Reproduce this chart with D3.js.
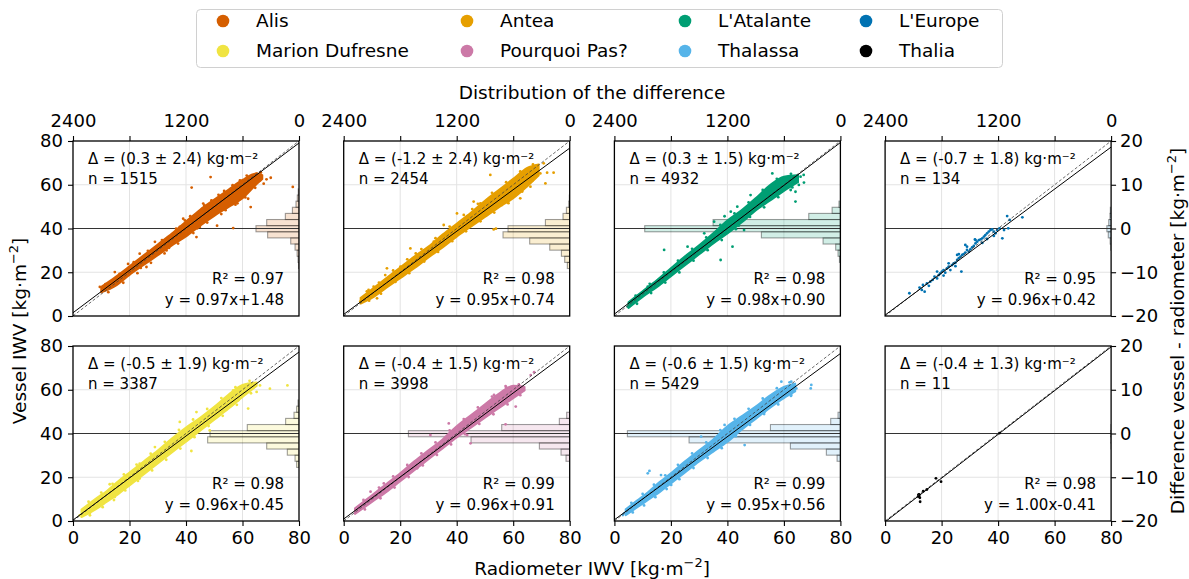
<!DOCTYPE html>
<html>
<head>
<meta charset="utf-8">
<script src="https://cdn.jsdelivr.net/npm/d3@7"></script>
<style>
  body { margin: 0; background: #fff; }
  text { font-family: "DejaVu Sans", sans-serif; fill: #000; }
</style>
</head>
<body>
<svg id="chart" width="1189" height="579"></svg>
<script>
// ---- data -------------------------------------------------------------
const vessels = ["Alis", "Antea", "L'Atalante", "L'Europe",
                 "Marion Dufresne", "Pourquoi Pas?", "Thalassa", "Thalia"];
const colors = ["#D55E00", "#E69F00", "#009E73", "#0072B2",
                "#F0E442", "#CC79A7", "#56B4E9", "#000000"];
const meanDiff = [0.3, -1.2, 0.3, -0.7, -0.5, -0.4, -0.6, -0.4];
const stdDiff = [2.4, 2.4, 1.5, 1.8, 1.9, 1.5, 1.5, 1.3];
const nObs = [1515, 2454, 4932, 134, 3387, 3998, 5429, 11];
const r2 = [0.97, 0.98, 0.98, 0.95, 0.98, 0.99, 0.99, 0.98];
const slopes = [0.97, 0.95, 0.98, 0.96, 0.96, 0.96, 0.95, 1.00];
const intercepts = [1.48, 0.74, 0.90, 0.42, 0.45, 0.91, 0.56, -0.41];

const iwvTicks = [0, 20, 40, 60, 80];
const diffTicks = [-20, -10, 0, 10, 20];
const countTicks = [2400, 1800, 1200, 600, 0];
const countTickLabels = ["2400", "", "1200", "", "0"];

// histogram of vessel - radiometer differences (common bin edges, kg m-2)
const histEdges = [-9.15, -7.75, -6.35, -4.95, -3.55, -2.15, -0.75, 0.65, 2.05, 3.45, 4.85, 6.25, 7.65, 9.05];
const histAlis       = [5, 10, 20, 42, 88, 333, 457, 343, 145, 70, 32, 18, 8];
const histAntea      = [25, 53, 88, 212, 425, 708, 655, 258, 71, 35, 10, 4, 0];
const histAtalante   = [0, 10, 25, 50, 184, 839, 2078, 1352, 336, 88, 15, 0, 0];
const histEurope     = [0, 0, 0, 4, 10, 30, 45, 25, 12, 8, 0, 0, 0];
const histMarion     = [0, 25, 42, 124, 343, 970, 945, 549, 142, 53, 25, 10, 0];
const histPourquoi   = [0, 0, 39, 92, 322, 1048, 1713, 722, 110, 32, 0, 0, 0];
const histThalassa   = [0, 0, 35, 149, 531, 1607, 2262, 743, 103, 25, 0, 0, 0];
const histThalia     = [0, 0, 0, 0, 1, 3, 6, 1, 0, 0, 0, 0, 0];
const histCounts = [histAlis, histAntea, histAtalante, histEurope,
                    histMarion, histPourquoi, histThalassa, histThalia];

// dense part of each point cloud: [radiometer IWV, lowest vessel IWV, highest vessel IWV]
const bandAlis = [[10, 10.8, 13.3], [15, 13.8, 17.8], [20, 18.8, 22.7], [25, 23.3, 27.7], [30, 27.8, 32.7],
  [35, 32.3, 37.7], [40, 36.4, 43.2], [45, 41.3, 48.6], [50, 45.8, 53.2], [55, 49.8, 57.7], [60, 53.8, 62.2],
  [65, 60.3, 65.2], [67, 62.6, 64.4]];
const bandAntea = [[6, 5.7, 8.3], [10, 8.3, 12.2], [15, 12.8, 17.2], [20, 17.3, 22.2], [25, 21.8, 27.2],
  [30, 26.8, 31.7], [35, 31.3, 37.2], [40, 36.3, 42.2], [45, 40.8, 47.2], [50, 45.3, 52.7], [55, 49.8, 57.7],
  [60, 53.8, 62.7], [65, 59.3, 67.7], [69, 64.2, 69.3]];
const bandAtalante = [[5, 3.7, 6.3], [10, 8.7, 11.3], [15, 13.2, 16.3], [20, 18.2, 21.8], [25, 23.2, 27.3],
  [30, 28.2, 32.3], [35, 33.2, 37.8], [40, 37.7, 43.7], [45, 42.7, 48.3], [50, 48.2, 53.8], [55, 52.7, 59.7],
  [60, 57.2, 63.7], [65, 61.2, 64.3]];
const bandEurope = [];
const bandMarion = [[3, 1.8, 5.2], [8, 5.3, 10.2], [12, 8.8, 13.7], [16, 12.3, 18.2], [20, 16.3, 22.2],
  [25, 21.3, 27.2], [30, 26.3, 32.2], [35, 31.3, 37.7], [40, 36.3, 42.7], [45, 41.3, 47.2], [50, 46.3, 52.2],
  [55, 51.3, 57.7], [60, 56.7, 62.2], [65, 61.7, 63.3]];
const bandPourquoi = [[4, 3.2, 5.8], [10, 8.7, 11.8], [15, 13.2, 16.8], [20, 18.2, 21.8], [25, 23.2, 27.3],
  [30, 28.2, 32.3], [35, 33.2, 37.3], [40, 38.2, 43.3], [45, 42.7, 48.3], [50, 47.2, 53.3], [55, 51.7, 58.3],
  [60, 56.2, 61.8], [64, 59.7, 61.3]];
const bandThalassa = [[4, 2.7, 5.3], [8, 6.2, 9.3], [12, 9.7, 13.3], [16, 13.2, 17.8], [20, 17.2, 21.8],
  [25, 22.2, 27.3], [30, 27.2, 32.3], [35, 31.7, 37.3], [40, 36.2, 43.3], [45, 41.7, 47.8], [50, 46.7, 52.3],
  [55, 51.7, 57.3], [60, 56.2, 61.3], [64, 59.2, 62.8]];
const bandThalia = [];
const bands = [bandAlis, bandAntea, bandAtalante, bandEurope,
               bandMarion, bandPourquoi, bandThalassa, bandThalia];

// individual points: [radiometer IWV, vessel IWV]
const ptsAlis = [[9.5, 13.3], [10.6, 11.7], [13, 14.8], [14.8, 20.1], [18.9, 20.9], [17.1, 16.3],
  [23.6, 28.5], [26, 22.4], [30.1, 31.5], [33.1, 30], [35.5, 36.1], [37.8, 40.7], [39.6, 43.7],
  [42, 58.7], [43.7, 36.1], [44.9, 40.7], [47.3, 46.8], [48.7, 63.5], [51, 41.3], [56.7, 40.2],
  [62.9, 49.8], [62, 53.6], [59.1, 62], [63.8, 63.5], [65.6, 62.8], [65, 65.1], [66.2, 62],
  [77.8, 59], [63.2, 60.5], [56.7, 52.1], [52, 54.4], [49.6, 49.8], [46.1, 51.4], [68.5, 62.5],
  [70, 63.2], [67.5, 60.5],
  [11.5, 14.6], [12.5, 10.9], [16.5, 19.3], [17.8, 15.2], [21.5, 24.6], [22.8, 19.6], [26.5, 29.8],
  [27.6, 24.3], [31.5, 34.7], [32.4, 28.6], [36.5, 39.9], [37.2, 33.1], [41.5, 45.6], [42.6, 37.9],
  [46.5, 50.6], [47.5, 42.7], [51.5, 55.4], [52.5, 46.6], [56.5, 59.8], [57.5, 50.9], [61.5, 64.2],
  [61, 54.2], [66.5, 65.6], [64.5, 58.6], [53.5, 57.2], [58.2, 51.5], [19.5, 23.8], [24, 22],
  [29, 33.9], [34, 31.2], [39, 44.5], [44, 40.1], [49, 52.9], [54, 48.4]];
const ptsAntea = [[5.9, 6.6], [7.7, 8.8], [11.8, 8.1], [15.3, 21.8], [14.7, 18.7], [23.6, 30.9],
  [31.9, 34], [35.4, 41.6], [37.8, 38.6], [40.1, 46.9], [51.9, 64.5], [53.1, 39.6], [53.9, 39.9],
  [55.5, 53], [59, 58.4], [62.5, 53.8], [66.1, 59.1], [67.3, 63.7], [69.6, 65.2], [71.4, 60.6],
  [74.3, 65.5], [72, 65.5], [68.4, 68.6], [70.8, 69.8], [64.3, 62.2], [60.8, 56.8], [46, 52.3],
  [48.4, 51.5], [43.7, 43.9], [29.5, 29.4], [20.1, 22.6], [10.6, 13.4], [8.8, 11.9],
  [8.2, 11.3], [9, 7], [12.5, 15.3], [13.2, 10.2], [17.5, 20.8], [18.3, 15.6], [22.5, 25.9],
  [23.2, 19.6], [27.5, 30.6], [28.5, 24.9], [32.5, 35.6], [33.4, 29.3], [37.5, 40.9], [38.4, 34.2],
  [42.5, 46.2], [43.3, 38.7], [47.5, 51.3], [48.4, 43.3], [52.5, 56.3], [53.3, 47.3], [57.5, 61.2],
  [58.3, 51.6], [62.5, 66.1], [63.2, 56.9], [67, 69.3], [66.8, 61.9], [25.5, 28.6], [35.5, 32.4],
  [45.5, 48.9], [56, 50.7]];
const ptsAtalante = [[4.7, 4.3], [5.3, 5.8], [17.6, 30.2], [35.3, 43.1], [37.6, 25.6], [41.8, 31.7],
  [41.2, 47.7], [43.5, 50], [48.2, 55.3], [55.9, 65.2], [56.5, 60.6], [60, 62.9], [64.1, 56.8],
  [64.1, 52.3], [67, 64.5], [67.1, 61], [65.9, 63.7], [65.3, 59.9], [62.4, 60.6], [62.4, 57.6],
  [31.8, 37.8], [25.9, 31.7], [20, 21], [11.8, 13.4], [41.2, 39.3], [45.9, 39.3],
  [7.5, 9.3], [8, 5.6], [12.5, 14.7], [13, 10.5], [17.5, 19.9], [18, 15.3], [22.5, 25.3],
  [23, 19.9], [27.5, 30.7], [28, 25.3], [32.5, 35.9], [33, 30.1], [37.5, 41.6], [38, 34.7],
  [42.5, 46.9], [43, 39.7], [47.5, 51.9], [48, 45.3], [52.5, 57.6], [53, 49.7], [57.5, 62.7],
  [58, 54.3], [62.5, 65], [63, 58.8], [39, 45.6], [44, 41.3]];
const ptsEurope = [[8.6, 10.4], [12.2, 13], [13, 11.9], [13.4, 14.2], [14, 11.1], [14.8, 14.9],
  [16, 15.7], [16.8, 16.5], [17.5, 18], [18.4, 17.2], [19, 18.7], [19.5, 19.5], [20.1, 20.3],
  [20.7, 21], [21.3, 19.8], [21.9, 21.8], [22.5, 22.6], [23.1, 21], [23.7, 23.3], [24.3, 24.1],
  [24.9, 24.4], [25.5, 25.6], [26.1, 26.4], [26.7, 27.1], [27, 20.3], [27.3, 27.9], [27.8, 28.3],
  [28.4, 29], [29, 30.2], [26.1, 28.3], [25.5, 27.9], [29.6, 29.4], [30.2, 30.5], [30.8, 31.4],
  [31.4, 32], [32, 33.2], [32.6, 34], [33.2, 34.7], [33.8, 35], [34.4, 35.5], [35, 36.3],
  [35.5, 37], [36.1, 37.8], [36.7, 38.6], [37.3, 39.3], [37.9, 39.6], [38.5, 38.6], [39.1, 37.8],
  [39.7, 39.3], [40.5, 40.1], [41.5, 35.5], [42.1, 39.3], [43.2, 45.7], [43.6, 40.1], [44.1, 43.9],
  [48.6, 45.1], [32, 34.7], [31.8, 35], [28.4, 32.5], [29, 31.7], [22.5, 24.1], [18.4, 20.3],
  [15.5, 13.8], [20.7, 18.5], [24.9, 22.8], [34.4, 33.4], [36.1, 35.2], [38.5, 36.6]];
const ptsMarion = [[2.4, 2.6], [4.1, 3.7], [5.9, 3.4], [8.9, 6.9], [13, 16.8], [14.8, 11],
  [18.3, 20.1], [23.6, 19.4], [29, 33.8], [35.5, 34.6], [41.9, 32], [44.9, 42.2], [48.4, 41.4],
  [52, 50.6], [58.5, 55.2], [62, 51.4], [65, 59], [66.2, 62], [69.7, 60.5], [75.9, 62],
  [60.9, 62], [56.7, 59.7], [43.7, 49.8], [37.8, 45.3], [23.6, 26.2],
  [5.5, 8.8], [6, 2.6], [10, 13], [10.5, 6.3], [14, 17], [14.5, 9.6], [18, 21.3], [18.5, 14],
  [22.5, 25.8], [23, 18.3], [27.5, 30.8], [28, 23.1], [32.5, 36.2], [33, 28], [37.5, 41.6],
  [38, 33.1], [42.5, 46.4], [43, 38.3], [47.5, 51.2], [48, 43.4], [52.5, 56.2], [53, 48.1],
  [57.5, 61.2], [58, 53.1], [62.5, 64.1], [63, 58.4]];
const ptsPourquoi = [[4.1, 5], [5.9, 6.6], [14.2, 17.2], [30.7, 39.3], [44.9, 35.5], [37.2, 44.6],
  [57.3, 44.2], [60.9, 52.3], [66.2, 66.7], [67.4, 68], [62.1, 61.4], [63.8, 59.9], [57.3, 61.7],
  [53.2, 57.6], [57.9, 55.3], [48.5, 48.5], [43.7, 39.3], [26, 24.1], [20.1, 21], [10.6, 11.1],
  [9.5, 13.4],
  [7, 9.6], [7.5, 5.3], [12.5, 15.3], [13, 10.4], [17.5, 20.4], [18, 15.3], [22.5, 25.6],
  [23, 20.1], [27.5, 30.9], [28, 25.4], [32.5, 35.9], [33, 30.2], [37.5, 41.4], [38, 35],
  [42.5, 46.6], [43, 39.7], [47.5, 51.9], [48, 44.4], [52.5, 56.9], [53, 48.8], [57.5, 61.2],
  [58, 53.3], [62, 62.5], [62.5, 57.5]];
const ptsThalassa = [[3.5, 3.5], [3, 2.7], [12.4, 22.9], [11.8, 21.8], [30.7, 38.6], [26.6, 26.4],
  [40.2, 39.3], [46.1, 34.7], [48.5, 46.9], [59.1, 63.7], [62.6, 63.7], [64.4, 60.6], [69.7, 62.2],
  [69.5, 60.6], [62.6, 57.6], [55.6, 56.1], [53.2, 50], [39, 43.9], [20.1, 16.5], [16.5, 21],
  [8.3, 8.8],
  [6, 8.3], [6.5, 3.9], [10, 12.4], [10.5, 7.1], [14, 16.6], [14.5, 10.9], [18, 20.9], [18.5, 14.6],
  [22.5, 25.7], [23, 19.1], [27.5, 30.9], [28, 24.2], [32.5, 35.9], [33, 28.8], [37.5, 41.5],
  [38, 33.3], [42.5, 46.7], [43, 38.8], [47.5, 51.3], [48, 43.9], [52.5, 56], [53, 48.9],
  [57.5, 60.7], [58, 53.3], [62, 63.4], [62.5, 57.2]];
const ptsThalia = [[11.8, 11.9], [12.1, 11.4], [12.3, 10.6], [12.4, 8.8], [13.5, 13.6],
  [14.8, 14.4], [18, 19.5], [19.8, 18], [40.5, 40.2], [12, 12.2], [11.7, 11.2]];
const points = [ptsAlis, ptsAntea, ptsAtalante, ptsEurope,
                ptsMarion, ptsPourquoi, ptsThalassa, ptsThalia];

// ---- layout -------------------------------------------------------------
const svg = d3.select("#chart");
const W = 226, H = 175;
const lefts = [73, 343.7, 614.4, 885.1];
const tops = [141, 346];
const FONT_TICK = 18, FONT_LABEL = 18.5, FONT_NOTE = 15;

function unitLabel(sel, before, size) {
  sel.text(null);
  sel.append("tspan").text(before + " [kg·m");
  sel.append("tspan").attr("dy", -size * 0.42).attr("font-size", size * 0.7).text("−2");
  sel.append("tspan").attr("dy", size * 0.42).text("]");
}

vessels.forEach((name, i) => {
  const col = i % 4, row = Math.floor(i / 4);
  const x0 = lefts[col], y0 = tops[row];
  const x = d3.scaleLinear().domain([0, 80]).range([x0, x0 + W]);
  const y = d3.scaleLinear().domain([0, 80]).range([y0 + H, y0]);
  const yd = d3.scaleLinear().domain([-20, 20]).range([y0 + H, y0]);
  const xc = d3.scaleLinear().domain([0, 2400]).range([x0 + W, x0]);
  const color = colors[i];

  const g = svg.append("g");
  const clipId = "clip" + i;
  svg.append("clipPath").attr("id", clipId)
    .append("rect").attr("x", x0).attr("y", y0).attr("width", W).attr("height", H);
  const inner = g.append("g").attr("clip-path", `url(#${clipId})`);

  // grid
  inner.selectAll("line.gx").data([20, 40, 60]).join("line")
    .attr("x1", d => x(d)).attr("x2", d => x(d)).attr("y1", y0).attr("y2", y0 + H)
    .attr("stroke", "#e3e3e3").attr("stroke-width", 1);
  inner.selectAll("line.gy").data([20, 60]).join("line")
    .attr("y1", d => y(d)).attr("y2", d => y(d)).attr("x1", x0).attr("x2", x0 + W)
    .attr("stroke", "#e3e3e3").attr("stroke-width", 1);

  // histogram of differences, growing leftward from the right spine
  const bins = histCounts[i].map((c, k) => ({ c, lo: histEdges[k], hi: histEdges[k + 1] }))
    .filter(b => b.c > 0);
  inner.selectAll("rect.hist").data(bins).join("rect")
    .attr("x", b => xc(b.c)).attr("width", b => xc(0) - xc(b.c))
    .attr("y", b => yd(b.hi)).attr("height", b => yd(b.lo) - yd(b.hi))
    .attr("fill", color).attr("fill-opacity", 0.18)
    .attr("stroke", "rgba(0,0,0,0.38)").attr("stroke-width", 1.1);

  // zero-difference reference
  inner.append("line").attr("x1", x0).attr("x2", x0 + W)
    .attr("y1", yd(0)).attr("y2", yd(0)).attr("stroke", "#333").attr("stroke-width", 1);

  // dense cloud
  if (bands[i].length) {
    const area = d3.area().x(d => x(d[0])).y0(d => y(d[1])).y1(d => y(d[2]))
      .curve(d3.curveMonotoneX);
    inner.append("path").datum(bands[i]).attr("d", area)
      .attr("fill", color).attr("stroke", color).attr("stroke-width", 2)
      .attr("stroke-linejoin", "round");
  }
  // individual points
  inner.selectAll("circle.pt").data(points[i]).join("circle")
    .attr("cx", d => x(d[0])).attr("cy", d => y(d[1])).attr("r", 1.4).attr("fill", color);

  // 1:1 line and regression line
  inner.append("line").attr("x1", x(0)).attr("y1", y(0)).attr("x2", x(80)).attr("y2", y(80))
    .attr("stroke", "#444").attr("stroke-width", 0.8).attr("stroke-dasharray", "3,2");
  inner.append("line")
    .attr("x1", x(0)).attr("y1", y(intercepts[i]))
    .attr("x2", x(80)).attr("y2", y(slopes[i] * 80 + intercepts[i]))
    .attr("stroke", "#000").attr("stroke-width", 1);

  // frame
  g.append("rect").attr("x", x0).attr("y", y0).attr("width", W).attr("height", H)
    .attr("fill", "none").attr("stroke", "#000").attr("stroke-width", 1.3);

  // axes
  const styleAxis = a => {
    a.select(".domain").remove();
    a.selectAll(".tick line").attr("stroke", "#000").attr("stroke-width", 1.1);
    a.selectAll(".tick text").attr("font-size", FONT_TICK).attr("font-family", "DejaVu Sans");
  };
  if (col === 0) {
    g.append("g").attr("transform", `translate(${x0},0)`)
      .call(d3.axisLeft(y).tickValues(iwvTicks).tickSize(5).tickPadding(5).tickFormat(d3.format("d")))
      .call(styleAxis);
  }
  if (col === 3) {
    g.append("g").attr("transform", `translate(${x0 + W},0)`)
      .call(d3.axisRight(yd).tickValues(diffTicks).tickSize(5).tickPadding(4))
      .call(styleAxis);
  }
  if (row === 1) {
    g.append("g").attr("transform", `translate(0,${y0 + H})`)
      .call(d3.axisBottom(x).tickValues(iwvTicks).tickSize(5).tickPadding(5).tickFormat(d3.format("d")))
      .call(styleAxis);
  }
  if (row === 0) {
    g.append("g").attr("transform", `translate(0,${y0})`)
      .call(d3.axisTop(xc).tickValues(countTicks).tickSize(5).tickPadding(9)
        .tickFormat((d, k) => countTickLabels[k]))
      .call(styleAxis);
  }

  // statistics text
  g.append("text").attr("x", x0 + 15).attr("y", y0 + 22.5).attr("font-size", FONT_NOTE)
    .text(`Δ = (${meanDiff[i].toFixed(1)} ± ${stdDiff[i].toFixed(1)}) kg·m⁻²`);
  g.append("text").attr("x", x0 + 15).attr("y", y0 + 42.5).attr("font-size", FONT_NOTE)
    .text(`n = ${nObs[i]}`);
  g.append("text").attr("x", x0 + W - 15).attr("y", y0 + H - 32.5).attr("font-size", FONT_NOTE)
    .attr("text-anchor", "end").text(`R² = ${r2[i].toFixed(2)}`);
  const b = intercepts[i];
  g.append("text").attr("x", x0 + W - 15).attr("y", y0 + H - 11).attr("font-size", FONT_NOTE)
    .attr("text-anchor", "end")
    .text(`y = ${slopes[i].toFixed(2)}x${b < 0 ? "-" : "+"}${Math.abs(b).toFixed(2)}`);
});

// ---- axis titles --------------------------------------------------------
const midX = (lefts[0] + lefts[3] + W) / 2;
const midY = (tops[0] + tops[1] + H) / 2;
svg.append("text").attr("x", midX).attr("y", 99).attr("text-anchor", "middle")
  .attr("font-size", FONT_LABEL).text("Distribution of the difference");
svg.append("text").attr("x", midX).attr("y", 575).attr("text-anchor", "middle")
  .attr("font-size", FONT_LABEL).call(s => unitLabel(s, "Radiometer IWV", FONT_LABEL));
svg.append("text").attr("transform", `translate(26,${midY}) rotate(-90)`).attr("text-anchor", "middle")
  .attr("font-size", FONT_LABEL).call(s => unitLabel(s, "Vessel IWV", FONT_LABEL));
svg.append("text").attr("transform", `translate(1184,${midY}) rotate(-90)`).attr("text-anchor", "middle")
  .attr("font-size", FONT_LABEL).call(s => unitLabel(s, "Difference vessel - radiometer", FONT_LABEL));

// ---- legend -------------------------------------------------------------
const legend = svg.append("g");
legend.append("rect").attr("x", 196.5).attr("y", 9.5).attr("width", 806).attr("height", 58)
  .attr("rx", 4).attr("fill", "#fff").attr("stroke", "#d0d0d0").attr("stroke-width", 1);
const legCols = [223, 467, 685, 866];
const legRows = [21, 51];
vessels.forEach((name, i) => {
  const cx = legCols[i % 4], cy = legRows[Math.floor(i / 4)];
  legend.append("circle").attr("cx", cx).attr("cy", cy).attr("r", 6.3).attr("fill", colors[i]);
  legend.append("text").attr("x", cx + 33).attr("y", cy).attr("dy", "0.35em")
    .attr("font-size", FONT_LABEL).text(name);
});
</script>
</body>
</html>
